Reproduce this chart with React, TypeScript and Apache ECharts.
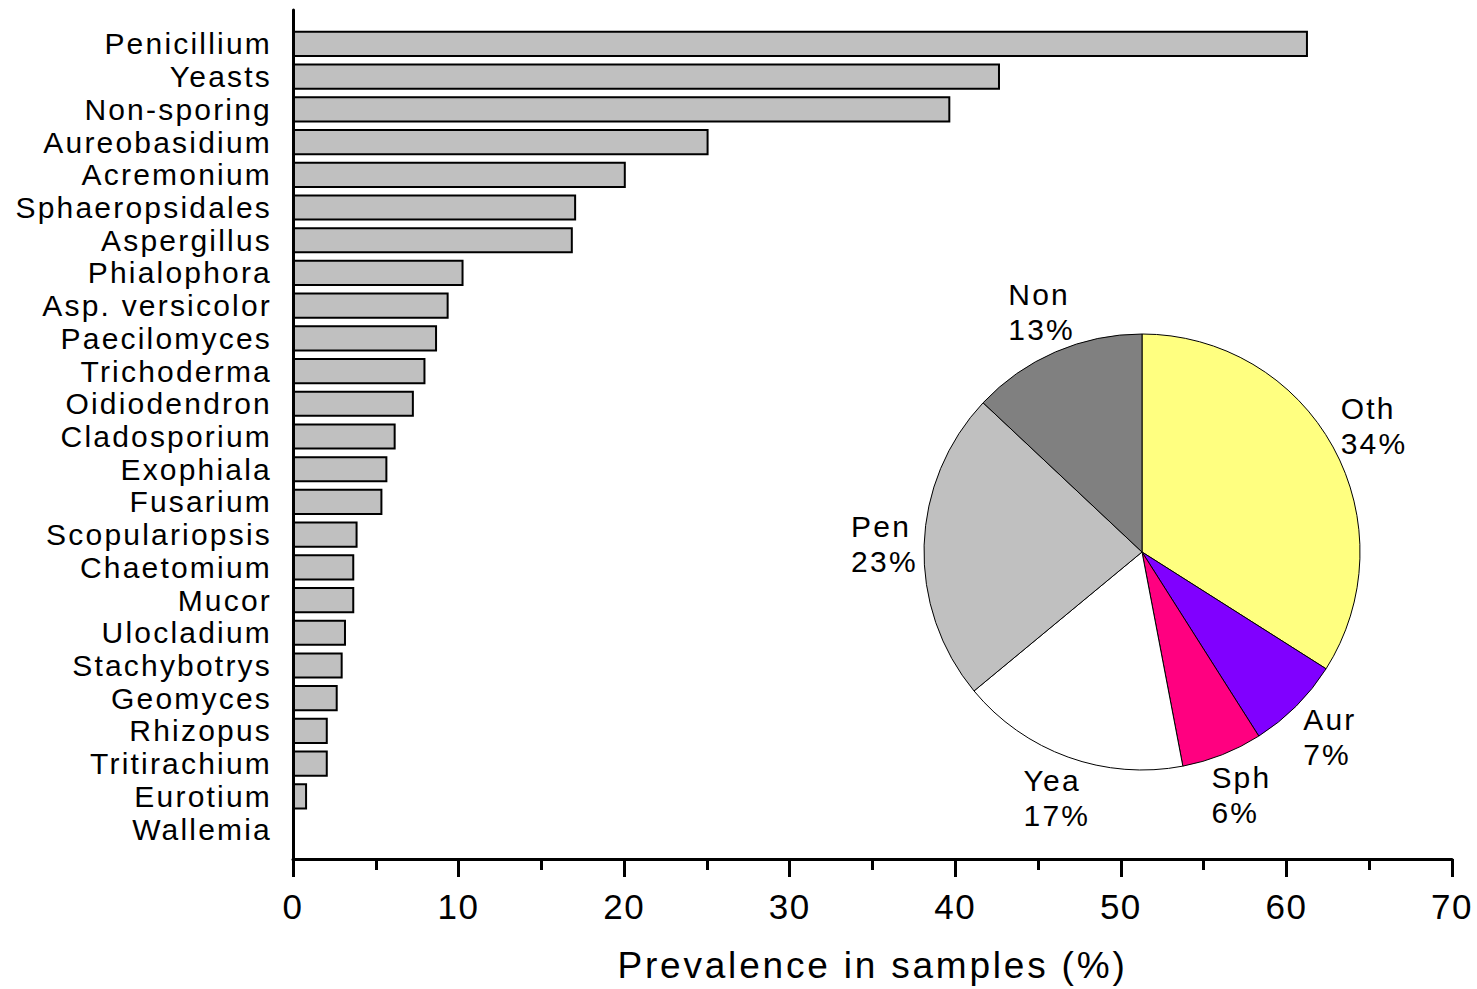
import React, { useEffect, useRef } from 'react';
import * as echarts from 'echarts';

const categories = [
  'Penicillium', 'Yeasts', 'Non-sporing', 'Aureobasidium', 'Acremonium',
  'Sphaeropsidales', 'Aspergillus', 'Phialophora', 'Asp. versicolor', 'Paecilomyces',
  'Trichoderma', 'Oidiodendron', 'Cladosporium', 'Exophiala', 'Fusarium',
  'Scopulariopsis', 'Chaetomium', 'Mucor', 'Ulocladium', 'Stachybotrys',
  'Geomyces', 'Rhizopus', 'Tritirachium', 'Eurotium', 'Wallemia',
];
const prevalence = [
  61.3, 42.7, 39.7, 25.1, 20.1,
  17.1, 16.9, 10.3, 9.4, 8.7,
  8.0, 7.3, 6.2, 5.7, 5.4,
  3.9, 3.7, 3.7, 3.2, 3.0,
  2.7, 2.1, 2.1, 0.85, 0,
];
const xMin = 0;
const xMax = 70;
const xInterval = 10;
const xTitle = 'Prevalence in samples (%)';

const pieNames = ['Oth', 'Aur', 'Sph', 'Yea', 'Pen', 'Non'];
const pieValues = [34, 7, 6, 17, 23, 13];
const pieColors = ['#FFFF80', '#8000FF', '#FF0080', '#FFFFFF', '#C0C0C0', '#808080'];

const FONT = "'Liberation Sans', Arial, sans-serif";

export default function App() {
  const ref = useRef<HTMLDivElement>(null);

  useEffect(() => {
    if (!ref.current) return;
    const chart = echarts.init(ref.current, null, { renderer: 'svg' });
    const pieData = pieNames.map((n, i) => ({
      name: n,
      value: pieValues[i],
      itemStyle: { color: pieColors[i] },
    }));
    const option: any = {
      animation: false,
      backgroundColor: '#ffffff',
      grid: [
        { left: 293, width: 1159, top: 27.6, height: 817.8, outerBoundsMode: 'none' },
        { left: 293, width: 1159, top: 10, height: 849, outerBoundsMode: 'none' },
      ],
      xAxis: [
        { gridIndex: 0, type: 'value', min: xMin, max: xMax, show: false },
        {
          gridIndex: 1,
          type: 'value',
          min: xMin,
          max: xMax,
          interval: xInterval,
          axisLine: { show: true, onZero: false, lineStyle: { color: '#000', width: 3 } },
          axisTick: { show: true, inside: false, length: 18, lineStyle: { color: '#000', width: 3 } },
          minorTick: { show: true, splitNumber: 2, length: 11, lineStyle: { color: '#000', width: 3 } },
          splitLine: { show: false },
          minorSplitLine: { show: false },
          axisLabel: { fontSize: 35, color: '#000', fontFamily: FONT, margin: 30 },
          name: xTitle,
          nameLocation: 'middle',
          nameGap: 88,
          nameTextStyle: { fontSize: 37, color: '#000', fontFamily: FONT },
        },
      ],
      yAxis: [
        {
          gridIndex: 0,
          type: 'category',
          data: categories,
          inverse: true,
          axisLine: { show: false },
          axisTick: { show: false },
          splitLine: { show: false },
          axisLabel: { interval: 0, fontSize: 30, color: '#000', fontFamily: FONT, margin: 21 },
        },
        {
          gridIndex: 1,
          type: 'value',
          min: 0,
          max: 1,
          axisLine: { show: true, onZero: false, lineStyle: { color: '#000', width: 3 } },
          axisTick: { show: false },
          axisLabel: { show: false },
          splitLine: { show: false },
        },
      ],
      series: [
        {
          type: 'bar',
          xAxisIndex: 0,
          yAxisIndex: 0,
          data: prevalence,
          barCategoryGap: '20%',
          itemStyle: { color: '#C0C0C0', borderColor: '#000', borderWidth: 2 },
          silent: true,
        },
        {
          type: 'pie',
          center: [1142, 552],
          radius: 218,
          startAngle: 90,
          clockwise: true,
          data: pieData,
          label: { show: false },
          labelLine: { show: false },
          itemStyle: { borderColor: '#000', borderWidth: 1 },
          silent: true,
        },
        {
          type: 'pie',
          center: [1142, 552],
          radius: [218, 298],
          startAngle: 90,
          clockwise: true,
          data: pieNames.map((n, i) => ({ name: n, value: pieValues[i] })),
          itemStyle: { color: 'rgba(0,0,0,0)', borderWidth: 0 },
          labelLine: { show: false },
          silent: true,
          label: {
            show: true,
            position: 'inside',
            formatter: (p: any) => `{a|${p.name}}\n{a|${p.value}%}`,
            rich: {
              a: { align: 'left', fontSize: 30, lineHeight: 35, color: '#000', fontFamily: FONT },
            },
          },
        },
      ],
    };
    chart.setOption(option);
    return () => chart.dispose();
  }, []);

  return (
    <>
      <style>{`#chart text { letter-spacing: 2.2px; } #chart text[style*="37px"] { letter-spacing: 2.8px; } #chart text[style*="35px"] { letter-spacing: 1.5px; }`}</style>
      <div
        id="chart"
        ref={ref}
        style={{ position: 'fixed', left: 0, top: 0, width: 1477, height: 989, background: '#fff' }}
      />
    </>
  );
}
